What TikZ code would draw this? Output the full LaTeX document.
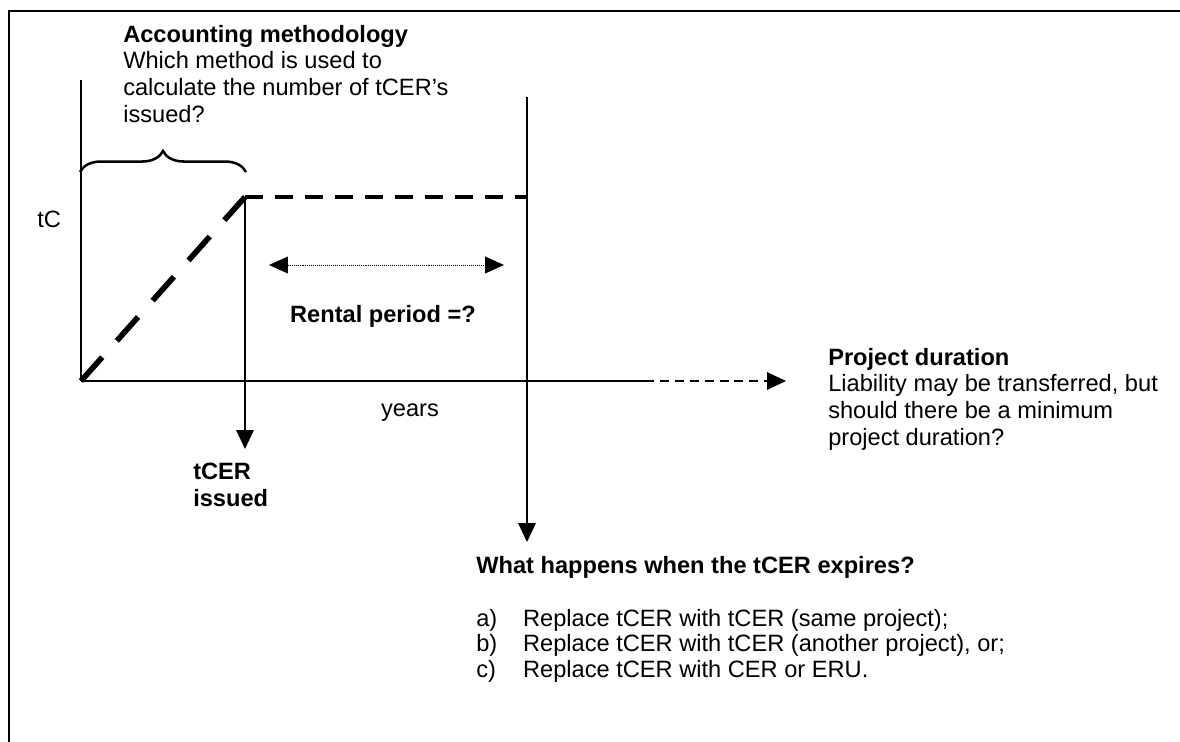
\documentclass[tikz,border=0pt]{standalone}
\usepackage{fontspec}
\setmainfont{Liberation Sans}
\usepackage{tikz}
\usetikzlibrary{arrows.meta}
\usetikzlibrary{decorations.pathreplacing}
\tikzstyle{axe}=[line width=1.1pt]
\tikzstyle{fleche}=[line width=1.1pt,-{Triangle[length=13.5pt,width=12.5pt]}]
\tikzstyle{rampe}=[line width=4pt,dash pattern=on 22.7pt off 15.6pt]
\tikzstyle{palier}=[line width=2.8pt,dash pattern=on 12.8pt off 8.5pt]
\tikzstyle{txt}=[inner sep=0pt,align=left,font=\fontsize{16.8pt}{18.9pt}\selectfont]

\begin{document}
\begin{tikzpicture}[x=0.025cm,y=-0.025cm]
\useasboundingbox (0,0) rectangle (1180,742);
\draw[line width=1.4pt] (9,742)--(9,11)--(1180,11); %cadre

\begin{scope} %axes
	\coordinate (O) at (81,381);
	\coordinate (Yh) at (81,80);
	\coordinate (Xm) at (645,381);
	\coordinate (Xf) at (786,381);
	\draw[axe] (O)--(Yh);
	\draw[axe] (O)--(Xm);
	\draw[fleche,dash pattern=on 6.4pt off 4.2pt] (Xm)--(Xf);
	\node[txt,anchor=base west] (tC) at (37,228) {tC};
	\node[txt,anchor=base] (years) at (410,416) {years};
\end{scope}

\begin{scope} %courbe
	\coordinate (S) at (245,197);
	\coordinate (Sd) at (527,197);
	\coordinate (Sb) at (245,449);
	\coordinate (Eh) at (527,97);
	\coordinate (Eb) at (527,542);
	\draw[rampe] (O)--(S);
	\draw[palier] (S)--(Sd);
	\draw[fleche] (S)--(Sb);
	\draw[fleche] (Eh)--(Eb);
	\coordinate (Bg) at (80,172);
	\coordinate (Bd) at (246,172);
	\draw[line width=1.8pt,decorate,decoration={brace,amplitude=14.9pt}] (Bg)--(Bd);
\end{scope}

\begin{scope} %location
	\coordinate (Lg) at (269,265);
	\coordinate (Ld) at (504,265);
	\draw[line width=0.7pt,dash pattern=on 0.7pt off 0.7pt,
		{Triangle[length=13.5pt,width=12pt]}-{Triangle[length=13.5pt,width=12pt]}] (Lg)--(Ld);
	\node[txt,anchor=base,font=\fontsize{16.8pt}{18.9pt}\selectfont\bfseries] (rent) at (383,322) {Rental period =?};
\end{scope}

%textes
\node[txt,anchor=north west] (acc) at (123,25) {\textbf{Accounting methodology}\\Which method is used to\\calculate the number of tCER's\\issued?};
\node[txt,anchor=north west,font=\fontsize{16.8pt}{18.9pt}\selectfont\bfseries] (iss) at (193,463) {tCER\\issued};
\node[txt,anchor=north west] (proj) at (828,348) {\textbf{Project duration}\\Liability may be transferred, but\\should there be a minimum\\project duration?};
\node[txt,anchor=north west,font=\fontsize{16.8pt}{18.9pt}\selectfont\bfseries] (exp) at (476,556) {What happens when the tCER expires?};
\node[txt,anchor=north west,font=\fontsize{16.8pt}{18.1pt}\selectfont] (opt) at (476,609) {\makebox[33.3pt][l]{a)}Replace tCER with tCER (same project);\\\makebox[33.3pt][l]{b)}Replace tCER with tCER (another project), or;\\\makebox[33.3pt][l]{c)}Replace tCER with CER or ERU.};

\end{tikzpicture}
\end{document}
